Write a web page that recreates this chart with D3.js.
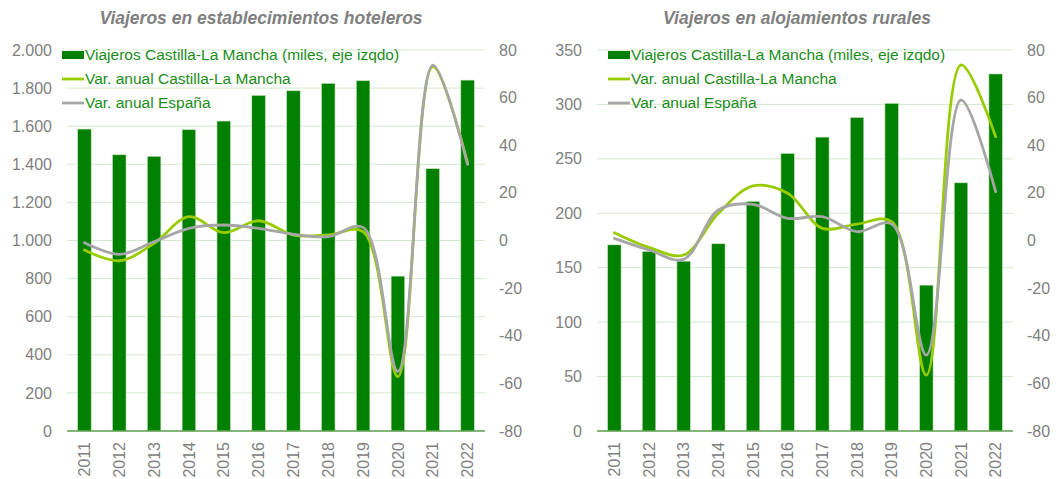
<!DOCTYPE html>
<html>
<head>
<meta charset="utf-8">
<script src="https://cdn.jsdelivr.net/npm/d3@7"></script>
<style>
  body { margin: 0; background: #fff; }
  svg { display: block; font-family: "Liberation Sans", Arial, sans-serif; }
</style>
</head>
<body>
<svg id="chart" width="1062" height="479"></svg>
<script>
var years = ["2011", "2012", "2013", "2014", "2015", "2016", "2017", "2018", "2019", "2020", "2021", "2022"];

// Viajeros en establecimientos hoteleros
var hotelViajeros = [1585, 1450, 1442, 1582, 1627, 1762, 1786, 1825, 1839, 813, 1377, 1842];
var hotelVarClm = [-4.0, -8.5, -1.2, 10.0, 3.3, 8.3, 2.3, 2.3, 3.7, -57.2, 73.0, 32.5];
var hotelVarEsp = [-0.9, -5.8, -0.5, 5.1, 6.5, 5.1, 2.6, 1.6, 5.5, -55.0, 73.6, 32.0];

// Viajeros en alojamientos rurales
var ruralViajeros = [171, 165, 156, 172, 211, 255, 270, 288, 301, 134, 228, 328];
var ruralVarClm = [3.3, -2.9, -6.1, 11.4, 22.9, 19.8, 5.1, 6.9, 7.9, -56.5, 73.7, 43.6];
var ruralVarEsp = [0.9, -4.0, -7.9, 12.8, 15.2, 9.3, 10.0, 3.7, 6.9, -48.1, 59.0, 20.5];

var leftTicks = {
    hotel: [0, 200, 400, 600, 800, 1000, 1200, 1400, 1600, 1800, 2000],
    rural: [0, 50, 100, 150, 200, 250, 300, 350]
};
var rightTicks = [-80, -60, -40, -20, 0, 20, 40, 60, 80];

var legendLabels = [
    "Viajeros Castilla-La Mancha (miles, eje izqdo)",
    "Var. anual Castilla-La Mancha",
    "Var. anual España"
];

var colors = { bar: "#008000", clm: "#99cc00", esp: "#a6a6a6", grid: "#d5e8cf", text: "#808080", legend: "#1a8c1a" };

var fmt = function (d) { return d3.format(",")(d).replace(/,/g, "."); };

function drawChart(svg, opts) {
    var g = svg.append("g");
    var x = d3.scaleBand().domain(years).range([opts.left, opts.right]).paddingInner(0.61).paddingOuter(0.305);
    var y = d3.scaleLinear().domain([0, opts.max]).range([431, 50]);
    var y2 = d3.scaleLinear().domain([-80, 80]).range([431, 50]);

    //  Title ---
    g.append("text")
        .attr("x", opts.titleX)
        .attr("y", 24)
        .attr("text-anchor", "middle")
        .style("font-size", "17.5px")
        .style("font-weight", "bold")
        .style("font-style", "italic")
        .style("fill", colors.text)
        .text(opts.title);

    //  Grid ---
    g.selectAll(".grid").data(opts.ticks.slice(1)).enter().append("line")
        .attr("x1", opts.left).attr("x2", opts.right)
        .attr("y1", function (d) { return y(d); }).attr("y2", function (d) { return y(d); })
        .style("stroke", colors.grid).style("stroke-width", 1);

    //  Left axis ---
    g.selectAll(".ltick").data(opts.ticks).enter().append("text")
        .attr("x", opts.left - 15)
        .attr("y", function (d) { return y(d); })
        .attr("dy", "0.35em")
        .attr("text-anchor", "end")
        .style("font-size", "16px")
        .style("fill", colors.text)
        .text(fmt);

    //  Right axis ---
    g.selectAll(".rtick").data(rightTicks).enter().append("text")
        .attr("x", opts.right + 14)
        .attr("y", function (d) { return y2(d); })
        .attr("dy", "0.35em")
        .style("font-size", "16px")
        .style("fill", colors.text)
        .text(function (d) { return d; });

    //  Bars ---
    g.selectAll(".bar").data(opts.bars).enter().append("rect")
        .attr("x", function (d, i) { return x(years[i]); })
        .attr("y", function (d) { return y(d); })
        .attr("width", x.bandwidth())
        .attr("height", function (d) { return y(0) - y(d); })
        .style("fill", colors.bar)
        .style("stroke", "#cfe6c6")
        .style("stroke-width", 0.6);

    //  Baseline ---
    g.append("line")
        .attr("x1", opts.left).attr("x2", opts.right)
        .attr("y1", y(0)).attr("y2", y(0))
        .style("stroke", "#5a9e4b").style("stroke-width", 1.3);

    //  Year labels ---
    g.selectAll(".year").data(years).enter().append("text")
        .attr("transform", function (d) { return "translate(" + (x(d) + x.bandwidth() / 2) + ",442) rotate(-90)"; })
        .attr("dy", "0.35em")
        .attr("text-anchor", "end")
        .style("font-size", "16px")
        .style("fill", colors.text)
        .text(function (d) { return d; });

    //  Lines ---
    var line = d3.line()
        .x(function (d, i) { return x(years[i]) + x.bandwidth() / 2; })
        .y(function (d) { return y2(d); })
        .curve(d3.curveCatmullRom.alpha(0.5));

    [[opts.clm, colors.clm], [opts.esp, colors.esp]].forEach(function (s) {
        g.append("path")
            .attr("d", line(s[0]))
            .style("fill", "none")
            .style("stroke", s[1])
            .style("stroke-width", 2.8)
            .style("stroke-linecap", "round");
    });

    //  Legend ---
    var lg = g.append("g").attr("transform", "translate(" + opts.legendX + ",55)");
    lg.append("rect").attr("x", 0).attr("y", -4).attr("width", 22).attr("height", 8).style("fill", colors.bar);
    lg.append("line").attr("x1", 0).attr("x2", 22).attr("y1", 24).attr("y2", 24)
        .style("stroke", colors.clm).style("stroke-width", 2.8);
    lg.append("line").attr("x1", 0).attr("x2", 22).attr("y1", 48).attr("y2", 48)
        .style("stroke", colors.esp).style("stroke-width", 2.8);
    lg.selectAll("text").data(legendLabels).enter().append("text")
        .attr("x", 23)
        .attr("y", function (d, i) { return i * 24; })
        .attr("dy", "0.35em")
        .style("font-size", "15.5px")
        .style("fill", colors.legend)
        .text(function (d) { return d; });
}

var svg = d3.select("#chart");

drawChart(svg, {
    title: "Viajeros en establecimientos hoteleros",
    titleX: 261,
    left: 67, right: 485, max: 2000,
    ticks: leftTicks.hotel,
    bars: hotelViajeros, clm: hotelVarClm, esp: hotelVarEsp,
    legendX: 62
});

drawChart(svg, {
    title: "Viajeros en alojamientos rurales",
    titleX: 797,
    left: 597, right: 1013, max: 350,
    ticks: leftTicks.rural,
    bars: ruralViajeros, clm: ruralVarClm, esp: ruralVarEsp,
    legendX: 608
});
</script>
</body>
</html>
